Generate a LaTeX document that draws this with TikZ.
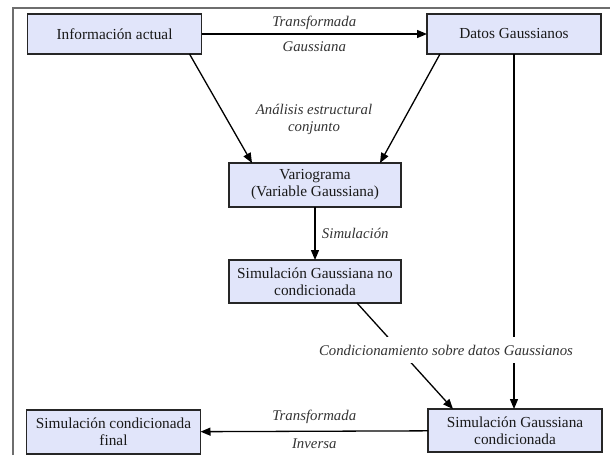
\documentclass[tikz,border=0pt]{standalone}
\usepackage{fontspec}
\setmainfont{Liberation Serif}
\usetikzlibrary{arrows.meta}
\definecolor{cajafondo}{RGB}{225,229,250}
\definecolor{marco}{RGB}{110,110,110}

\begin{document}
\begin{tikzpicture}[x=1pt,y=-1pt,
  caja/.style={draw=black!85,fill=cajafondo,line width=1.2pt,minimum width=174pt,
    minimum height=43pt,align=center,inner sep=2pt,outer sep=0pt,text=black!90,
    font=\fontsize{15.3}{17}\selectfont},
  flecha/.style={line width=1.3pt,-{Triangle[length=10pt,width=8pt]}},
  etiq/.style={text=black!80,font=\fontsize{14.8}{17}\selectfont\itshape}]
\useasboundingbox (0,0) rectangle (610,455);
\draw[marco,line width=1.5pt] (13,455) -- (13,8) -- (610,8);

\node[caja,minimum height=40pt] (info) at (114.5,34) {Información actual};
\node[caja,minimum height=40pt] (datos) at (514,34) {Datos Gaussianos};
\node[caja,minimum width=172pt,minimum height=44pt] (vario) at (315,185) {Variograma\\(Variable Gaussiana)};
\node[caja,minimum width=172pt] (simnc) at (315,281.5) {Simulación Gaussiana no\\condicionada};
\node[caja,minimum height=44pt] (final) at (113.5,432) {Simulación condicionada\\final};
\node[caja] (simc) at (515,430.5) {Simulación Gaussiana\\condicionada};

\draw[flecha] (info) -- (datos)
  node[etiq,midway,above=0.5pt] {Transformada}
  node[etiq,midway,below=4pt] {Gaussiana};
\draw[flecha] ([xshift=-12pt]info.south east) -- ([xshift=23pt]vario.north west);
\draw[flecha] ([xshift=13pt]datos.south west) -- ([xshift=-21pt]vario.north east);
\node[etiq,align=center] (analisis) at (314,119) {Análisis estructural\\conjunto};
\draw[flecha] (vario) -- (simnc) node[etiq,midway,right=3pt] {Simulación};
\draw[flecha] ([xshift=-44pt]simnc.south east) -- ([xshift=25pt]simc.north west);
\draw[flecha] (datos.south) -- (datos.south |- simc.north);
\node[etiq,fill=white,inner xsep=2pt,inner ysep=8pt] (cond) at (446,350) {Condicionamiento sobre datos Gaussianos};
\draw[flecha] (simc) -- (final)
  node[etiq,midway,above=4pt] {Transformada}
  node[etiq,midway,below=4pt] {Inversa};
\end{tikzpicture}
\end{document}
